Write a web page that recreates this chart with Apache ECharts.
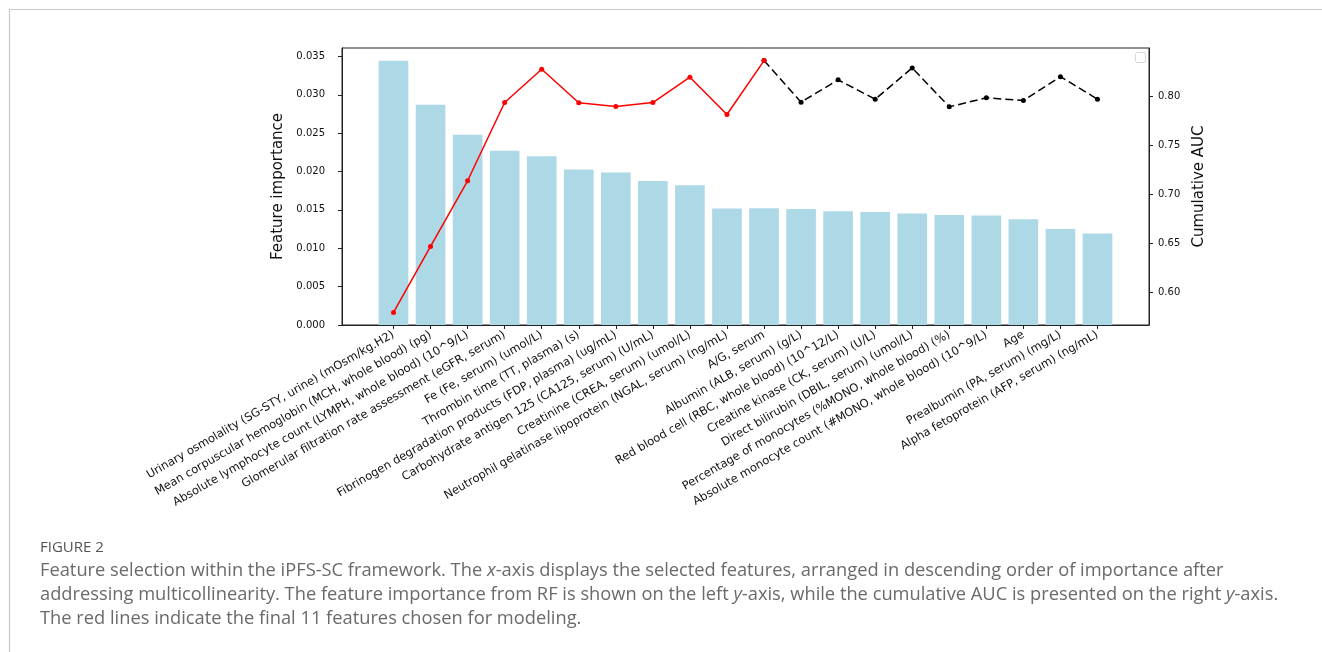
<!DOCTYPE html>
<html>
<head>
<meta charset="utf-8">
<script src="https://cdn.jsdelivr.net/npm/echarts@6/dist/echarts.min.js"></script>
<style>
  html, body { margin: 0; padding: 0; background: #fff; }
  #chart { width: 1322px; height: 652px; }
</style>
</head>
<body>
<div id="chart"></div>
<script>
// Features ordered by random-forest importance
const categories = [
  'Urinary osmolality (SG-STY, urine) (mOsm/kg.H2)',
  'Mean corpuscular hemoglobin (MCH, whole blood) (pg)',
  'Absolute lymphocyte count (LYMPH, whole blood) (10^9/L)',
  'Glomerular filtration rate assessment (eGFR, serum)',
  'Fe (Fe, serum) (umol/L)',
  'Thrombin time (TT, plasma) (s)',
  'Fibrinogen degradation products (FDP, plasma) (ug/mL)',
  'Carbohydrate antigen 125 (CA125, serum) (U/mL)',
  'Creatinine (CREA, serum) (umol/L)',
  'Neutrophil gelatinase lipoprotein (NGAL, serum) (ng/mL)',
  'A/G, serum',
  'Albumin (ALB, serum) (g/L)',
  'Red blood cell (RBC, whole blood) (10^12/L)',
  'Creatine kinase (CK, serum) (U/L)',
  'Direct bilirubin (DBIL, serum) (umol/L)',
  'Percentage of monocytes (%MONO, whole blood) (%)',
  'Absolute monocyte count (#MONO, whole blood) (10^9/L)',
  'Age',
  'Prealbumin (PA, serum) (mg/L)',
  'Alpha fetoprotein (AFP, serum) (ng/mL)'
];

// Feature importance (left axis)
const importance = [
  0.03444, 0.02870, 0.02478, 0.02270, 0.02200, 0.02026, 0.01987, 0.01878, 0.01822, 0.01518,
  0.01522, 0.01513, 0.01483, 0.01474, 0.01452, 0.01435, 0.01426, 0.01378, 0.01252, 0.01191
];

// Cumulative AUC for the 11 features kept for modelling (features 1..11)
const aucSelected = [0.5791, 0.6466, 0.7138, 0.7939, 0.8280, 0.7936, 0.7898, 0.7939, 0.8198, 0.7816, 0.8368];
// Cumulative AUC continuing from feature 11 through feature 20
const aucRest = [0.8368, 0.7943, 0.8171, 0.7973, 0.8293, 0.7895, 0.7987, 0.7959, 0.8204, 0.7973];
const aucRestStart = 10;

// Tick labels
const importanceTicks = [0, 0.005, 0.010, 0.015, 0.020, 0.025, 0.030, 0.035];
const aucTicks = [0.60, 0.65, 0.70, 0.75, 0.80];

const xTicks = categories.map((_, i) => i);
const barData = importance.map((v, i) => [i, v]);
const selData = aucSelected.map((v, i) => [i, v]);
const restData = aucRest.map((v, i) => [i + aucRestStart, v]);

const plotFont = 'DejaVu Sans';
const capFont = 'Open Sans';
const capSize = 18.3;
const capColor = '#6a6a6a';

const chart = echarts.init(document.getElementById('chart'), null, { renderer: 'canvas' });

const option = {
  animation: false,
  backgroundColor: '#fff',
  textStyle: { fontFamily: plotFont },
  grid: {
    left: 342, top: 48, width: 807, height: 277,
    show: true, borderColor: '#222', borderWidth: 1, backgroundColor: 'transparent'
  },
  xAxis: {
    type: 'value',
    min: -1.39, max: 20.39,
    axisLine: { show: true, onZero: false, lineStyle: { color: '#222', width: 1 } },
    axisTick: { show: true, customValues: xTicks, length: 4, lineStyle: { color: '#222' } },
    axisLabel: {
      customValues: xTicks,
      formatter: (v) => categories[Math.round(v)] || '',
      rotate: 30, margin: 9,
      fontFamily: plotFont, fontSize: 11.5, color: '#111'
    },
    splitLine: { show: false }
  },
  yAxis: [
    {
      type: 'value', position: 'left',
      min: 0, max: 0.0361,
      name: 'Feature importance', nameLocation: 'middle', nameRotate: 90, nameGap: 46,
      nameTextStyle: { fontFamily: plotFont, fontSize: 15, color: '#111' },
      axisLine: { show: true, onZero: false, lineStyle: { color: '#222', width: 1 } },
      axisTick: { show: true, customValues: importanceTicks, length: 4, lineStyle: { color: '#222' } },
      axisLabel: {
        customValues: importanceTicks,
        formatter: (v) => v.toFixed(3),
        margin: 17, fontFamily: plotFont, fontSize: 10, color: '#111'
      },
      splitLine: { show: false }
    },
    {
      type: 'value', position: 'right',
      min: 0.5662, max: 0.8497,
      name: 'Cumulative AUC', nameLocation: 'middle', nameRotate: 90, nameGap: 28,
      nameTextStyle: { fontFamily: plotFont, fontSize: 15, color: '#111' },
      axisLine: { show: true, onZero: false, lineStyle: { color: '#222', width: 1 } },
      axisTick: { show: true, customValues: aucTicks, length: 4, lineStyle: { color: '#222' } },
      axisLabel: {
        customValues: aucTicks,
        formatter: (v) => v.toFixed(2),
        margin: 9, fontFamily: plotFont, fontSize: 10, color: '#111'
      },
      splitLine: { show: false }
    }
  ],
  series: [
    {
      id: 'importance', type: 'bar', xAxisIndex: 0, yAxisIndex: 0,
      data: barData, barWidth: 30,
      itemStyle: { color: '#ADD8E6' }, z: 1
    },
    {
      id: 'aucSelected', type: 'line', xAxisIndex: 0, yAxisIndex: 1,
      data: selData,
      lineStyle: { color: '#ff0000', width: 1.5 },
      itemStyle: { color: '#ff0000' },
      symbol: 'circle', symbolSize: 5, z: 3
    },
    {
      id: 'aucRest', type: 'line', xAxisIndex: 0, yAxisIndex: 1,
      data: restData,
      lineStyle: { color: '#000', width: 1.5, type: [8, 4] },
      itemStyle: { color: '#000' },
      symbol: 'circle', symbolSize: 5, z: 2
    }
  ],
  graphic: [
    // outer figure frame
    {
      type: 'polyline', silent: true,
      shape: { points: [[9.5, 652], [9.5, 9.5], [1322, 9.5]] },
      style: { stroke: '#c8c8c8', lineWidth: 1.2, fill: null }
    },
    // empty legend box
    {
      type: 'rect', silent: true, right: 176, top: 52,
      shape: { width: 10, height: 10, r: 2 },
      style: { fill: '#fff', stroke: '#d6d6d6', lineWidth: 1 }
    },
    {
      type: 'text', left: 40, top: 540, silent: true,
      style: { text: 'FIGURE 2', font: '15px "' + capFont + '"', fill: '#555' }
    },
    {
      type: 'text', left: 40, top: 562, silent: true,
      style: {
        text: 'Feature selection within the iPFS-SC framework. The {i|x}-axis displays the selected features, arranged in descending order of importance after',
        font: capSize + 'px "' + capFont + '"', fill: capColor,
        rich: { i: { fontStyle: 'italic', fontFamily: capFont, fontSize: capSize, fill: capColor } }
      }
    },
    {
      type: 'text', left: 40, top: 586, silent: true,
      style: {
        text: 'addressing multicollinearity. The feature importance from RF is shown on the left {i|y}-axis, while the cumulative AUC is presented on the right {i|y}-axis.',
        font: capSize + 'px "' + capFont + '"', fill: capColor,
        rich: { i: { fontStyle: 'italic', fontFamily: capFont, fontSize: capSize, fill: capColor } }
      }
    },
    {
      type: 'text', left: 40, top: 610, silent: true,
      style: {
        text: 'The red lines indicate the final 11 features chosen for modeling.',
        font: capSize + 'px "' + capFont + '"', fill: capColor
      }
    }
  ]
};

chart.setOption(option);

// Bars span 0.8 of a category step in axis units
const px0 = chart.convertToPixel({ xAxisIndex: 0 }, 0);
const px1 = chart.convertToPixel({ xAxisIndex: 0 }, 0.8);
chart.setOption({ series: [{ id: 'importance', barWidth: Math.abs(px1 - px0) }] });
</script>
</body>
</html>
